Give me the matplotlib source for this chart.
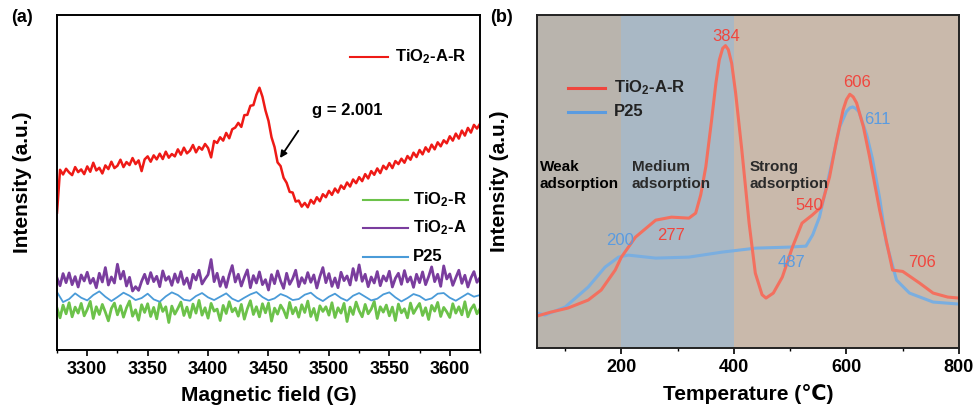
import matplotlib
matplotlib.use('Agg')
import matplotlib.pyplot as plt
import numpy as np

plt.rcParams['font.family'] = ['Liberation Sans', 'DejaVu Sans']
plt.rcParams['mathtext.default'] = 'regular'

# ---- EPR spectra (a), sampled every 2.5 G from 3275 to 3625 G ----
epr_field = np.linspace(3275, 3625, 141)
epr_field_p25 = np.linspace(3275, 3625, 71)

epr_tio2_a_r = [
    41.0, 53.8, 52.4, 54.1, 53.0, 52.2, 54.6, 53.1, 53.9, 52.5,
    54.8, 53.2, 55.9, 53.6, 54.4, 52.7, 55.1, 54.0, 56.2, 54.3,
    55.0, 56.8, 54.6, 56.1, 55.2, 57.3, 55.5, 56.6, 53.4, 56.9,
    57.8, 56.2, 58.1, 56.9, 58.6, 57.0, 59.2, 57.4, 58.5, 57.8,
    59.9, 58.3, 60.4, 58.7, 59.5, 61.2, 59.0, 60.6, 59.8, 61.5,
    60.3, 57.5, 62.4, 61.8, 63.5, 62.5, 64.8, 63.2, 65.9, 66.4,
    67.8, 66.6, 70.1, 70.2, 72.9, 73.1, 76.2, 78.3, 75.6, 71.5,
    68.4, 63.5, 60.6, 56.0, 54.9, 51.4, 49.9, 47.2, 47.0, 44.3,
    44.6, 42.8, 43.9, 42.6, 44.8, 43.7, 45.6, 44.4, 46.5, 45.6,
    47.5, 46.3, 48.2, 47.0, 49.1, 48.1, 50.0, 48.8, 50.9, 49.8,
    51.6, 50.4, 52.5, 51.2, 53.4, 52.3, 54.2, 52.8, 55.0, 54.0,
    55.8, 54.3, 56.4, 55.5, 57.1, 55.9, 57.9, 56.8, 58.9, 57.6,
    59.7, 58.4, 60.5, 59.2, 61.3, 59.9, 62.0, 60.8, 62.6, 61.7,
    63.8, 62.5, 64.6, 63.1, 65.5, 64.0, 66.3, 64.9, 67.2, 66.1,
    67.5,
]

epr_tio2_a = [
    21.5, 19.2, 22.8, 20.1, 23.0, 19.5, 21.9, 18.8, 22.4, 20.6,
    23.2, 19.9, 21.4, 18.6, 22.9, 20.3, 24.6, 19.4, 21.8, 20.0,
    25.6, 21.2, 23.5, 19.1, 21.7, 17.6, 18.9, 17.8, 20.5, 22.6,
    19.8, 23.1, 20.4, 22.0, 18.9, 23.6, 20.8, 21.9, 19.3, 22.7,
    20.2, 23.4, 19.6, 21.5, 18.4, 22.6, 20.9, 23.8, 19.7, 21.2,
    22.5, 27.0, 20.4, 22.9, 19.0, 21.8, 18.7, 22.4, 25.2, 20.3,
    22.6, 19.1, 21.7, 23.9, 18.6, 22.2, 20.0, 23.3, 19.5, 21.0,
    17.9, 22.5, 19.8, 23.6, 20.6, 18.4, 22.9, 19.6, 21.3, 23.8,
    18.9, 21.6, 19.9, 23.1, 20.2, 22.4, 18.5, 21.9, 24.6, 20.1,
    22.8, 19.0, 21.5, 18.6, 23.2, 20.7, 22.1, 19.4, 24.3, 20.8,
    25.4, 20.5, 22.6, 18.9, 21.8, 20.0, 23.4, 19.2, 22.1, 20.6,
    23.5, 18.8, 21.4, 22.9, 19.6, 23.7, 20.3, 21.8, 18.7, 22.6,
    20.1, 23.3, 19.5, 21.9, 24.8, 20.4, 22.6, 19.0, 25.1, 21.2,
    22.7, 19.3, 21.6, 23.8, 19.9, 22.3, 18.8, 21.5, 23.4, 20.2,
    21.6,
]

epr_tio2_r = [
    12.5, 9.6, 13.4, 10.8, 14.1, 9.9, 12.8, 11.0, 13.9, 10.2,
    12.1, 14.5, 9.4, 12.9, 10.6, 13.6, 11.3, 8.7, 12.4, 14.0,
    10.5, 13.2, 9.8, 12.6, 14.6, 10.1, 12.0, 8.9, 13.5, 11.2,
    13.8, 10.0, 12.7, 9.3, 14.2, 11.5, 12.9, 8.2, 13.1, 10.7,
    12.4, 14.3, 10.3, 12.8, 9.7, 13.7, 11.0, 14.8, 10.4, 12.6,
    9.5, 13.9, 11.6, 12.2, 8.8, 13.3, 10.9, 14.4, 11.4, 12.5,
    10.1, 13.6, 9.2, 12.3, 14.7, 10.6, 12.9, 9.9, 13.8, 11.1,
    14.0, 8.6, 12.5, 10.7, 13.4, 11.9, 9.6, 14.2, 10.8, 12.7,
    9.8, 13.5, 11.2, 14.6, 10.0, 12.4, 8.9, 13.2, 11.5, 12.9,
    10.4, 14.1, 9.7, 12.6, 11.0, 13.9, 8.5, 12.8, 10.6, 14.3,
    11.7, 9.9, 13.6, 10.8, 12.2, 14.5, 9.4, 12.9, 11.3, 13.4,
    10.2, 12.8, 8.8, 13.7, 11.1, 12.3, 9.6, 14.0, 10.9, 12.5,
    13.9, 10.3, 12.6, 9.1, 13.3, 11.6, 14.2, 10.0, 12.7, 11.4,
    9.7, 13.8, 11.0, 12.9, 10.5, 14.4, 9.9, 12.2, 13.5, 10.8,
    12.3,
]

epr_p25 = [
    17.3, 14.3, 15.2, 16.9, 15.6, 14.8, 16.4, 17.5, 15.9, 14.6,
    15.8, 17.1, 16.2, 14.9, 15.5, 16.8, 15.1, 14.4, 16.0, 17.2,
    16.4, 15.0, 14.7, 16.1, 17.0, 15.7, 14.9, 15.9, 16.9, 15.3,
    14.5, 15.6, 16.6, 17.3, 15.8, 14.8, 15.4, 16.7, 16.0, 14.9,
    15.2, 16.5, 17.1, 15.6, 14.6, 15.9, 16.8, 15.5, 14.7, 16.2,
    17.0, 15.9, 14.8, 15.3, 16.6, 17.2, 15.7, 14.5, 15.5, 16.7,
    16.1, 14.9, 15.4, 16.8, 17.0, 15.6, 14.7, 15.8, 16.9, 15.9,
    16.4,
]

# ---- NH3-TPD profiles (b) ----
tpd_temp_a_r = [50, 75, 105, 141, 164, 189, 200, 225, 261, 289, 320, 332, 341,
                350, 360, 368, 374, 380, 385, 390, 396, 403, 414, 427, 438,
                450, 457, 470, 486, 504, 521, 539, 555, 570, 582, 594, 600,
                606, 612, 618, 630, 641, 659, 682, 700, 730, 754, 780, 800]
tpd_tio2_a_r = [9.6, 10.8, 12.0, 14.4, 17.4, 23.4, 27.3, 33.3, 38.4, 39.3, 39.0,
                40.5, 46.0, 54.4, 68.0, 79.6, 86.5, 90.0, 90.8, 89.6, 85.5,
                76.6, 59.5, 37.5, 22.5, 16.0, 15.0, 16.5, 21.3, 30.3, 37.5,
                39.9, 42.3, 51.4, 62.0, 71.5, 74.6, 76.2, 75.4, 73.6, 66.5,
                57.5, 41.4, 23.4, 23.0, 19.5, 16.5, 15.3, 15.0]

tpd_temp_p25 = [50, 64, 100, 141, 171, 195, 212, 261, 320, 379, 439, 498, 528,
                540, 552, 570, 588, 600, 606, 611, 616, 622, 636, 646, 659, 671,
                689, 712, 754, 800]
tpd_p25 = [10.5, 9.9, 12.3, 18.3, 24.3, 27.3, 27.9, 27.0, 27.3, 28.8, 30.0,
           30.3, 30.6, 34.0, 39.3, 52.6, 66.4, 71.0, 72.1, 72.4, 72.0, 71.0,
           64.0, 57.0, 45.0, 31.5, 20.4, 16.5, 13.8, 13.2]

# peak labels: (text, temperature, height, colour key)
peak_labels = [
    ('384', 386, 93.4, 'r'), ('606', 618, 79.6, 'r'), ('611', 655, 68.5, 'b'),
    ('540', 534, 42.9, 'r'), ('277', 288, 33.9, 'r'), ('200', 198, 32.4, 'b'),
    ('487', 502, 25.8, 'b'), ('706', 734, 25.8, 'r'),
]

# adsorption regions: (start, end, colour, label, label x, label colour)
regions = [
    (50, 200, '#b9b4ad', 'Weak\nadsorption', 55, 'black'),
    (200, 400, '#a9b8c5', 'Medium\nadsorption', 218, '#2a2a2a'),
    (400, 800, '#c9b9ab', 'Strong\nadsorption', 427, '#2a2a2a'),
]

fig = plt.figure(figsize=(9.73, 4.09), dpi=100)
ax1 = fig.add_axes([0.0586, 0.1443, 0.4347, 0.819])
ax2 = fig.add_axes([0.5519, 0.1491, 0.4337, 0.8142])

# ---------------- panel (a) ----------------
ax1.plot(epr_field, epr_tio2_r, color='#6cc24a', lw=2.0)
ax1.plot(epr_field, epr_tio2_a, color='#7a3d9e', lw=2.0)
ax1.plot(epr_field_p25, epr_p25, color='#4a9bd8', lw=1.3)
ax1.plot(epr_field, epr_tio2_a_r, color='#ee1a16', lw=1.8)
ax1.set_xlim(3275, 3625)
ax1.set_ylim(0, 100)
ax1.set_xticks(np.arange(3300, 3601, 50))
ax1.set_xticks(np.arange(3275, 3626, 25), minor=True)
ax1.set_yticks([])
ax1.tick_params(axis='x', which='major', direction='out', length=4, width=1.2,
                labelsize=13, pad=4)
ax1.tick_params(axis='x', which='minor', direction='out', length=2.5, width=1)
for lab in ax1.get_xticklabels():
    lab.set_fontweight('bold')
for sp in ax1.spines.values():
    sp.set_linewidth(1.4)
ax1.set_xlabel('Magnetic field (G)', fontsize=15, fontweight='bold', labelpad=6)
ax1.set_ylabel('Intensity (a.u.)', fontsize=15, fontweight='bold', labelpad=18)

ax1.annotate('g = 2.001', xy=(3459.5, 57.3), xytext=(3486, 71.5),
             fontsize=12, fontweight='bold', va='center', ha='left',
             arrowprops=dict(arrowstyle='-|>', color='black', lw=1.3,
                             shrinkA=14, shrinkB=0, mutation_scale=10,
                             relpos=(0, 0.5)))

# legend keys drawn in axes fraction
ax1.plot([0.693, 0.782], [0.875, 0.875], color='#ee1a16', lw=1.5,
         transform=ax1.transAxes)
ax1.text(0.799, 0.875, 'TiO$_2$-A-R', transform=ax1.transAxes, fontsize=12,
         fontweight='bold', va='center')
for y, c, name in [(0.448, '#6cc24a', 'TiO$_2$-R'), (0.364, '#7a3d9e', 'TiO$_2$-A'),
                   (0.278, '#4a9bd8', 'P25')]:
    ax1.plot([0.723, 0.830], [y, y], color=c, lw=1.5, transform=ax1.transAxes)
    ax1.text(0.842, y, name, transform=ax1.transAxes, fontsize=12,
             fontweight='bold', va='center')

fig.text(0.011, 0.957, '(a)', fontsize=13, fontweight='bold', va='center')

# ---------------- panel (b) ----------------
for x0, x1, c, label, lx, tc in regions:
    ax2.axvspan(x0, x1, color=c, lw=0, zorder=0)
    ax2.text(lx, 51.8, label, fontsize=11, fontweight='bold', color=tc,
             va='center', ha='left', linespacing=1.35, zorder=3)

ax2.plot(tpd_temp_p25, tpd_p25, color='#7aaee0', lw=2.2, zorder=2,
         solid_joinstyle='round')
ax2.plot(tpd_temp_a_r, tpd_tio2_a_r, color='#f3705f', lw=2.2, zorder=2,
         solid_joinstyle='round')

label_colours = {'r': '#f0463e', 'b': '#5a9be0'}
for txt, t, h, k in peak_labels:
    ax2.text(t, h, txt, color=label_colours[k], fontsize=12, ha='center',
             va='center', zorder=4)

ax2.set_xlim(50, 800)
ax2.set_ylim(0, 100)
ax2.set_xticks([200, 400, 600, 800])
ax2.set_xticks([100, 300, 500, 700], minor=True)
ax2.set_yticks([])
ax2.tick_params(axis='x', which='major', direction='out', length=4, width=1.2,
                labelsize=13, pad=4)
ax2.tick_params(axis='x', which='minor', direction='out', length=2.5, width=1)
for lab in ax2.get_xticklabels():
    lab.set_fontweight('bold')
for sp in ax2.spines.values():
    sp.set_linewidth(1.4)
    sp.set_color('#222222')
ax2.set_xlabel('Temperature (℃)', fontsize=15, fontweight='bold', labelpad=6)
ax2.set_ylabel('Intensity (a.u.)', fontsize=15, fontweight='bold', labelpad=20)

ax2.plot([0.073, 0.161], [0.781, 0.781], color='#f0463e', lw=2.2,
         transform=ax2.transAxes, zorder=4)
ax2.text(0.182, 0.781, 'TiO$_2$-A-R', transform=ax2.transAxes, fontsize=12,
         fontweight='bold', va='center', color='#222222')
ax2.plot([0.073, 0.161], [0.709, 0.709], color='#5a9be0', lw=2.2,
         transform=ax2.transAxes, zorder=4)
ax2.text(0.182, 0.709, 'P25', transform=ax2.transAxes, fontsize=12,
         fontweight='bold', va='center', color='#222222')

fig.text(0.504, 0.957, '(b)', fontsize=13, fontweight='bold', va='center')

fig.savefig('out.png', dpi=100)
